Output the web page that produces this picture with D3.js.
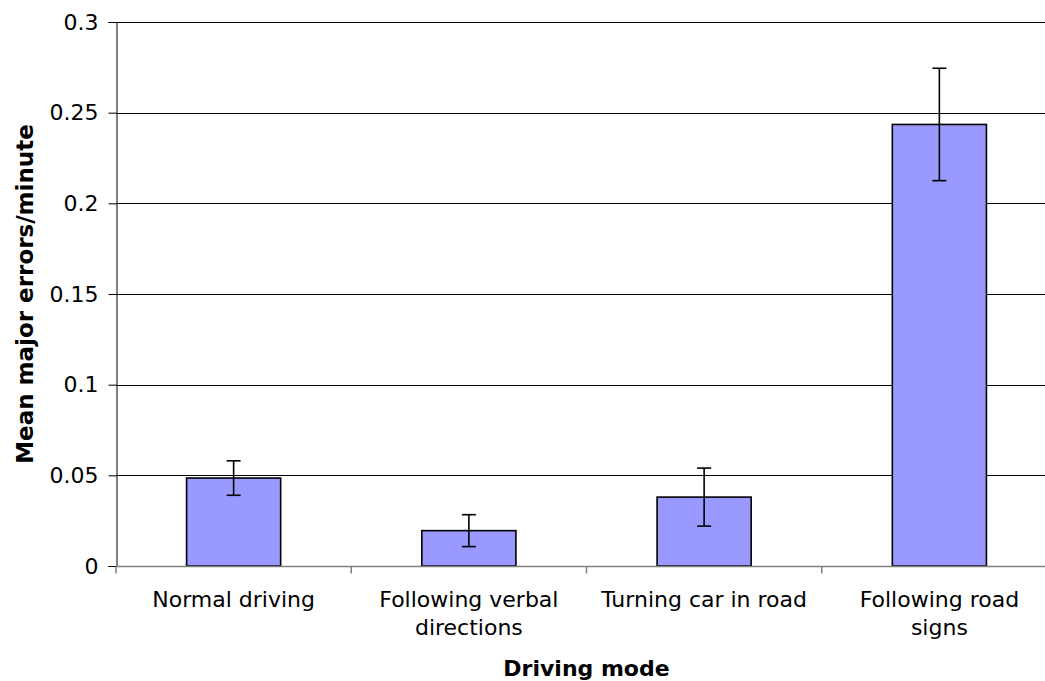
<!DOCTYPE html>
<html><head><meta charset="utf-8">
<script src="https://cdn.jsdelivr.net/npm/d3@7"></script>
<style>body{margin:0;background:#fff}svg{display:block}text{font-family:"DejaVu Sans",Verdana,sans-serif}</style>
</head><body><svg id="c" width="1045" height="681"></svg>
<script>
const categories = [["Normal driving"], ["Following verbal", "directions"], ["Turning car in road"], ["Following road", "signs"]];
const means = [0.0485, 0.0195, 0.038, 0.2435];
const errors = [0.0095, 0.0088, 0.016, 0.031];
const yTicks = [0, 0.05, 0.1, 0.15, 0.2, 0.25, 0.3];
const yTickLabels = ["0", "0.05", "0.1", "0.15", "0.2", "0.25", "0.3"];

const svg = d3.select("#c");
const L = 116, R = 1057, T = 22, B = 566;
const x = d3.scaleBand().domain(d3.range(categories.length)).range([L, R]).paddingInner(0).paddingOuter(0);
const y = d3.scaleLinear().domain([0, 0.3]).range([B, T]);

// gridlines
svg.append("g").selectAll("line").data(yTicks.filter(d => d > 0)).join("line")
  .attr("x1", L).attr("x2", R).attr("y1", d => Math.round(y(d)) + 0.5).attr("y2", d => Math.round(y(d)) + 0.5)
  .attr("stroke", "#000").attr("stroke-width", 1);

// y axis
const yAxis = d3.axisLeft(y).tickValues(yTicks).tickFormat((d, i) => yTickLabels[i]).tickSize(8).tickPadding(10);
const gy = svg.append("g").attr("transform", `translate(${L + 0.5},0)`).call(yAxis);
gy.select(".domain").attr("stroke", "#000");
gy.selectAll(".tick line").attr("stroke", "#000");
gy.selectAll("text").attr("font-size", 22).attr("fill", "#000").attr("font-family", "DejaVu Sans, Verdana, sans-serif");

// bars
const bw = x.bandwidth() * 0.4;
svg.append("g").selectAll("rect").data(means).join("rect")
  .attr("x", (d, i) => x(i) + (x.bandwidth() - bw) / 2)
  .attr("y", d => y(d))
  .attr("width", bw)
  .attr("height", d => y(0) - y(d))
  .attr("fill", "#9999FF").attr("stroke", "#000").attr("stroke-width", 1.6);

// error bars
const eg = svg.append("g").attr("stroke", "#000").attr("stroke-width", 1.6);
means.forEach((m, i) => {
  const cx = x(i) + x.bandwidth() / 2;
  eg.append("line").attr("x1", cx).attr("x2", cx).attr("y1", y(m + errors[i])).attr("y2", y(m - errors[i]));
  [m + errors[i], m - errors[i]].forEach(v => {
    eg.append("line").attr("x1", cx - 7).attr("x2", cx + 7).attr("y1", y(v)).attr("y2", y(v));
  });
});

// x axis
const gx = svg.append("g").attr("transform", `translate(0,${B + 0.5})`);
gx.append("line").attr("x1", L).attr("x2", R).attr("stroke", "#808080").attr("stroke-width", 1.5);
gx.selectAll(".tk").data(d3.range(categories.length + 1)).join("line").attr("class", "tk")
  .attr("x1", i => i < categories.length ? x(i) : R).attr("x2", i => i < categories.length ? x(i) : R)
  .attr("y1", 0).attr("y2", 7).attr("stroke", "#808080").attr("stroke-width", 1.5);
const labs = gx.selectAll(".lab").data(categories).join("text").attr("class", "lab")
  .attr("text-anchor", "middle").attr("font-size", 22).attr("fill", "#000")
  .attr("transform", (d, i) => `translate(${x(i) + x.bandwidth() / 2},0)`);
labs.selectAll("tspan").data(d => d).join("tspan").attr("x", 0).attr("y", (d, j) => 40 + j * 28).text(d => d);

// axis titles
svg.append("text").attr("x", (L + R) / 2).attr("y", 676).attr("text-anchor", "middle")
  .attr("font-size", 22).attr("font-weight", "bold").text("Driving mode");
svg.append("text").attr("transform", `translate(33,${(T + B) / 2}) rotate(-90)`).attr("text-anchor", "middle")
  .attr("font-size", 23).attr("font-weight", "bold").text("Mean major errors/minute");
</script></body></html>
